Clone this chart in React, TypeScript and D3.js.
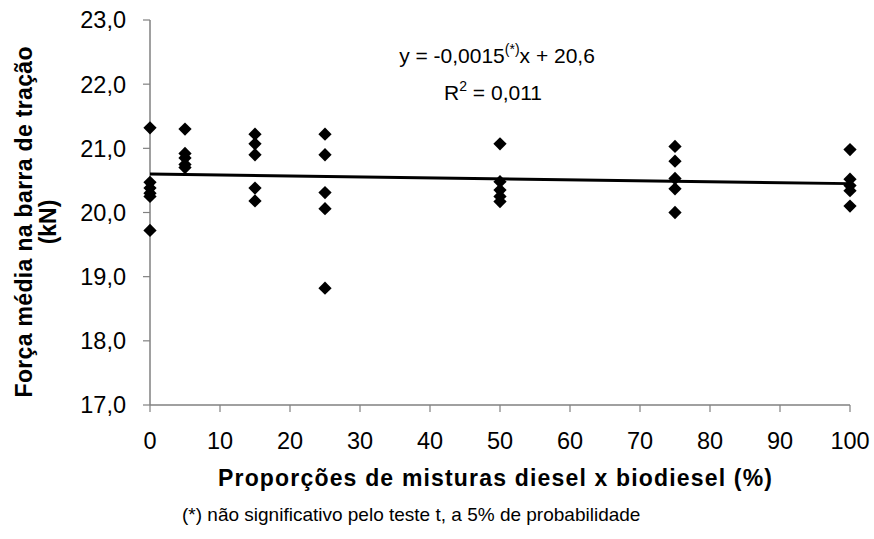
import React from "react";
import * as d3 from "d3";

const xTicks = [0, 10, 20, 30, 40, 50, 60, 70, 80, 90, 100];
const yTicks = [17, 18, 19, 20, 21, 22, 23];
const pointsX = [0, 0, 0, 0, 0, 0, 5, 5, 5, 5, 5, 15, 15, 15, 15, 15, 25, 25, 25, 25, 25, 50, 50, 50, 50, 50, 75, 75, 75, 75, 75, 100, 100, 100, 100, 100];
const forceY = [21.32, 20.47, 20.38, 20.3, 20.25, 19.72, 21.3, 20.92, 20.85, 20.75, 20.7, 21.22, 21.07, 20.9, 20.38, 20.18, 21.22, 20.9, 20.31, 20.06, 18.82, 21.07, 20.48, 20.35, 20.25, 20.17, 21.03, 20.8, 20.53, 20.37, 20.0, 20.98, 20.52, 20.42, 20.34, 20.1];
const slope = -0.0015;
const intercept = 20.6;

const W = 874;
const H = 539;

export default function App() {
  const x = d3.scaleLinear().domain([0, 100]).range([150, 850]);
  const y = d3.scaleLinear().domain([17, 23]).range([405, 20]);
  const sym = d3.symbol().type(d3.symbolSquare).size(88)();
  const fmt = (v: number) => v.toFixed(1).replace(".", ",");
  const line = d3.line<number>().x((d) => x(d)).y((d) => y(slope * d + intercept));
  const axisColor = "#808080";
  const font = "'Liberation Sans', Arial, sans-serif";
  return (
    <svg width={W} height={H} style={{ position: "absolute", left: 0, top: 0 }} fontFamily={font}>
      <rect width={W} height={H} fill="#fff" />
      <line x1={x(0)} x2={x(0)} y1={y(23)} y2={y(17)} stroke={axisColor} strokeWidth={1.5} />
      {yTicks.map((t) => (
        <g key={"y" + t}>
          <line x1={x(0) - 7} x2={x(0)} y1={y(t)} y2={y(t)} stroke={axisColor} strokeWidth={1.2} />
          <text x={126} y={y(t)} dy="0.36em" textAnchor="end" fontSize={23.5} fill="#000">
            {fmt(t)}
          </text>
        </g>
      ))}
      <line x1={x(0)} x2={x(100)} y1={y(17)} y2={y(17)} stroke={axisColor} strokeWidth={1.5} />
      {xTicks.map((t) => (
        <g key={"x" + t}>
          <line x1={x(t)} x2={x(t)} y1={y(17)} y2={y(17) + 7} stroke={axisColor} strokeWidth={1.2} />
          <text x={x(t)} y={449} textAnchor="middle" fontSize={23.5} fill="#000">
            {t}
          </text>
        </g>
      ))}
      <path d={line([0, 100]) || ""} stroke="#000" strokeWidth={3} fill="none" />
      {forceY.map((v, i) => (
        <path key={"p" + i} d={sym || ""} transform={`translate(${x(pointsX[i])},${y(v)}) rotate(45)`} fill="#000" />
      ))}
      <text x={497} y={63} textAnchor="middle" fontSize={21} fill="#000">
        y = -0,0015<tspan dy={-9} fontSize={14}>(*)</tspan>
        <tspan dy={9}>x + 20,6</tspan>
      </text>
      <text x={493} y={100} textAnchor="middle" fontSize={21} fill="#000">
        R<tspan dy={-9} fontSize={14}>2</tspan>
        <tspan dy={9}> = 0,011</tspan>
      </text>
      <text x={495} y={486} textAnchor="middle" fontSize={23} fontWeight="bold" fill="#000" textLength={554} lengthAdjust="spacing">
        Proporções de misturas diesel x biodiesel (%)
      </text>
      <g transform={`translate(32,222) rotate(-90)`}>
        <text x={0} y={0} textAnchor="middle" fontSize={23} fontWeight="bold" fill="#000" textLength={351} lengthAdjust="spacing">
          Força média na barra de tração
        </text>
        <text x={0} y={24} textAnchor="middle" fontSize={23} fontWeight="bold" fill="#000">
          (kN)
        </text>
      </g>
      <text x={182} y={521} fontSize={19} fill="#000">
        (*) não significativo pelo teste t, a 5% de probabilidade
      </text>
    </svg>
  );
}
